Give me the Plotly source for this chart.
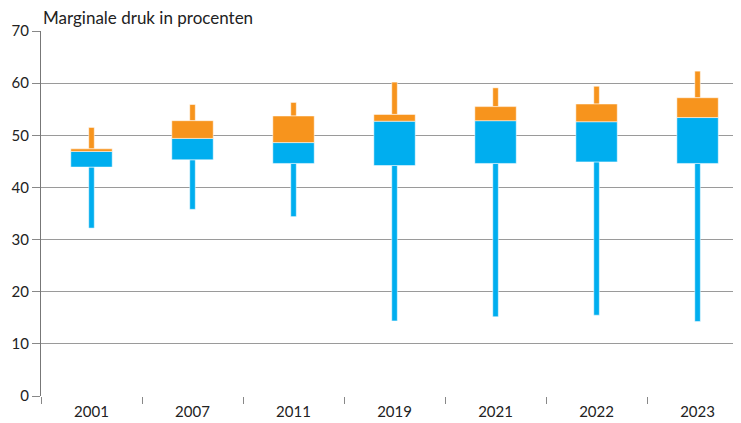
import plotly.graph_objects as go

years = ["2001", "2007", "2011", "2019", "2021", "2022", "2023"]
minimum = [32.2, 35.8, 34.4, 14.4, 15.2, 15.5, 14.3]
q1 = [43.9, 45.3, 44.6, 44.2, 44.6, 44.9, 44.6]
median = [46.9, 49.4, 48.6, 52.7, 52.8, 52.6, 53.4]
q3 = [47.4, 52.8, 53.7, 54.0, 55.5, 56.0, 57.2]
maximum = [51.5, 55.9, 56.3, 60.2, 59.1, 59.4, 62.3]

BLUE = "#00AEEF"
ORANGE = "#F7941D"
FONT = "Lato"

fig = go.Figure()


def add_bar(base, top, color, width):
    fig.add_trace(go.Bar(
        x=years,
        base=base,
        y=[t - b for t, b in zip(top, base)],
        width=width,
        marker=dict(color=color, line=dict(color="rgba(255,255,255,0.5)", width=1)),
        hoverinfo="skip",
        showlegend=False,
    ))


add_bar(minimum, q1, BLUE, 0.055)
add_bar(q3, maximum, ORANGE, 0.055)
add_bar(q1, median, BLUE, 0.41)
add_bar(median, q3, ORANGE, 0.41)

# page body has an 8px default margin; compensate so the plot lands where the reference has it
fig.update_layout(
    width=733, height=415,
    margin=dict(l=33, r=0, t=23, b=27),
    paper_bgcolor="white", plot_bgcolor="white",
    barmode="overlay",
    font=dict(family=FONT, color="#222"),
    xaxis=dict(
        type="category",
        range=[-0.5, 6.43],
        tickson="boundaries",
        ticks="outside", ticklen=7, tickcolor="#888", tickwidth=1,
        ticklabelstandoff=5,
        showgrid=False, showline=False, zeroline=False,
        tickfont=dict(size=15, family=FONT, color="#222"),
    ),
    yaxis=dict(
        range=[0, 70],
        tick0=0, dtick=10,
        showgrid=True, gridcolor="#9a9a9a", gridwidth=1,
        zeroline=False,
        showline=True, linecolor="#777", linewidth=1,
        ticks="outside", ticklen=8, tickcolor="#888",
        tickfont=dict(size=15, family=FONT, color="#222"),
    ),
    annotations=[dict(
        text="Marginale druk in procenten",
        xref="paper", yref="paper", x=0, y=1,
        xanchor="left", yanchor="bottom", yshift=1,
        showarrow=False,
        font=dict(size=17, family=FONT, color="#222"),
    )],
)

fig.write_html("out.html")
